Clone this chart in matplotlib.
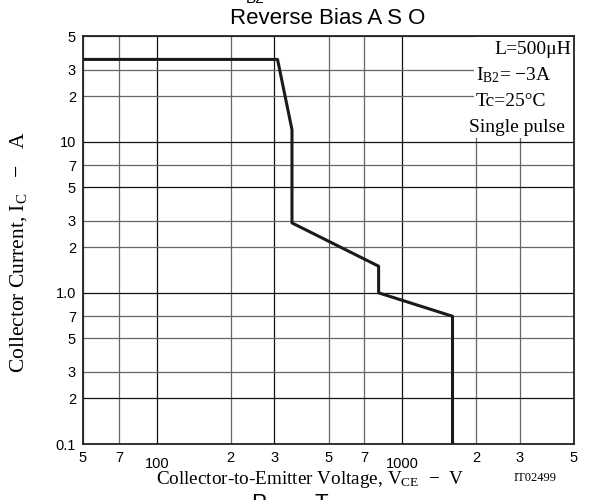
import matplotlib
matplotlib.use('Agg')
import matplotlib.pyplot as plt
import matplotlib.transforms as mtransforms
from matplotlib.patches import Rectangle

# axis ticks (log-log chart)
x_ticks = [50, 70, 100, 200, 300, 500, 700, 1000, 2000, 3000, 5000]
x_tick_labels = ['5', '7', '100', '2', '3', '5', '7', '1000', '2', '3', '5']
y_ticks = [0.1, 0.2, 0.3, 0.5, 0.7, 1, 2, 3, 5, 7, 10, 20, 30, 50]
y_tick_labels = ['0.1', '2', '3', '5', '7', '1.0', '2', '3', '5', '7', '10', '2', '3', '5']

# safe operating area boundary
vce = [50, 310, 355, 355, 800, 800, 1600, 1600]
ic = [35, 35, 12, 2.9, 1.5, 1.0, 0.7, 0.1]

conditions = ['L=500\u03bcH', 'I$_{\\mathrm{B2}}$= \u22123A', 'Tc=25\u00b0C', 'Single pulse']

plt.rcParams['mathtext.fontset'] = 'custom'
plt.rcParams['mathtext.rm'] = 'Liberation Serif'
plt.rcParams['mathtext.it'] = 'Liberation Serif:italic'

fig = plt.figure(figsize=(5.93, 5.00), dpi=100)
ax = fig.add_axes([83 / 593, 56 / 500, 491 / 593, 408 / 500])
ax.set_xscale('log')
ax.set_yscale('log')
ax.set_xlim(50, 5000)
ax.set_ylim(0.1, 50)

# grid lines: some darker, some grey (as scanned)
for xv in x_ticks:
    c = '#111111' if xv in (100, 300, 1000) else '#666666'
    ax.axvline(xv, color=c, lw=0.9, zorder=1)
for yv in y_ticks:
    c = '#111111' if yv in (1, 10, 5, 0.2) else '#666666'
    ax.axhline(yv, color=c, lw=0.9, zorder=1)

ax.plot(vce, ic, color='#1a1a1a', lw=2.2, zorder=3)

ax.xaxis.set_major_locator(matplotlib.ticker.FixedLocator(x_ticks))
ax.xaxis.set_minor_locator(matplotlib.ticker.NullLocator())
ax.set_xticklabels(x_tick_labels)
ax.yaxis.set_major_locator(matplotlib.ticker.FixedLocator(y_ticks))
ax.yaxis.set_minor_locator(matplotlib.ticker.NullLocator())
ax.set_yticklabels(y_tick_labels)
ax.tick_params(length=0, labelsize=10.5, pad=5)
for lab in ax.get_xticklabels() + ax.get_yticklabels():
    lab.set_fontfamily('Liberation Sans')
for i, lab in enumerate(ax.get_xticklabels()):
    if x_tick_labels[i] in ('100', '1000'):
        lab.set_transform(lab.get_transform() +
                          mtransforms.ScaledTranslation(0, -6 / 100, fig.dpi_scale_trans))

for sp in ax.spines.values():
    sp.set_linewidth(1.3)
    sp.set_color('#222222')
    sp.set_zorder(4)

# white area behind the condition block
fig.patches.append(Rectangle((474 / 593, 1 - 138 / 500), 99 / 593, 101 / 500,
                             transform=fig.transFigure, facecolor='white',
                             edgecolor='none', zorder=2.5, figure=fig))
ax.set_zorder(1)
text_x = [494, 476, 476, 469]
text_y = [49, 75, 102, 128]
for t, tx, ty in zip(conditions, text_x, text_y):
    fig.text(tx / 593, 1 - ty / 500, t, family='Liberation Serif', fontsize=14,
             va='center', ha='left', zorder=5,
             bbox=dict(facecolor='white', edgecolor='none', pad=1.0))

fig.text(328 / 593, 1 - 19 / 500, 'Reverse Bias A S O', family='Liberation Sans',
         fontsize=16, ha='center', va='center')
fig.text(255 / 593, 0.988, 'B2', family='Liberation Sans', fontsize=11, ha='center', va='bottom')

fig.text(310 / 593, 1 - 479 / 500, 'Collector-to-Emitter Voltage, V$_{\\mathrm{CE}}$  \u2212  V',
         family='Liberation Serif', fontsize=13.8, ha='center', va='center')
fig.text(535 / 593, 1 - 478 / 500, 'IT02499', family='Liberation Serif', fontsize=9,
         ha='center', va='center')
fig.text(19 / 593, 1 - 252 / 500, 'Collector Current, I$_{\\mathrm{C}}$   \u2212   A',
         family='Liberation Serif', fontsize=15.5, ha='center', va='center', rotation=90)

fig.text(290 / 593, 1 - 492 / 500, 'P$_{\\mathrm{C}}$  \u2013  T', family='Liberation Sans',
         fontsize=16, ha='center', va='top')

fig.savefig('out.png', dpi=100)
plt.close(fig)
